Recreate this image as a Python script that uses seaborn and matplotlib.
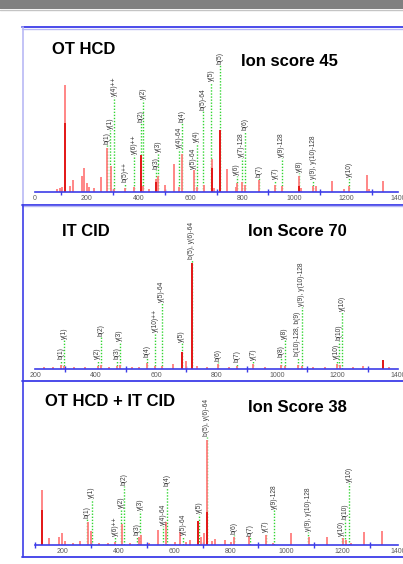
import matplotlib
matplotlib.use("Agg")
import matplotlib.pyplot as plt
import seaborn as sns
from matplotlib.lines import Line2D
from matplotlib.patches import Rectangle
from matplotlib.ticker import MultipleLocator

# ---------------- data ----------------
# OT HCD (ion score 45)
hcd_mz = [86, 95, 104, 116, 135, 145, 180, 190, 199, 207, 228, 255, 278, 292, 305, 347, 383, 409,
          418, 440, 467, 476, 501, 536, 557, 566, 613, 623, 652, 681, 690, 713, 741, 775, 778, 797,
          810, 865, 926, 951, 1019, 1025, 1073, 1082, 1144, 1192, 1211, 1280, 1290, 1343]
hcd_int = [3, 4, 5, 106, 6, 12, 16, 24, 9, 5, 4, 15, 44, 26, 3, 4, 5, 37,
           6, 3, 13, 16, 7, 28, 5, 38, 22, 5, 7, 33, 4, 62, 23, 5, 9, 10,
           7, 12, 7, 6, 16, 4, 6, 6, 11, 3, 6, 17, 3, 11]
hcd_dark_mz = [116, 409, 467, 681, 713, 1019]
hcd_dark_int = [69, 37, 10, 24, 62, 6]
hcd_ann_mz = [278, 290, 305, 347, 383, 409, 418, 467, 476, 557, 566, 613, 623, 649, 679, 713,
              778, 797, 810, 865, 926, 951, 1019, 1073, 1211]
hcd_ann_lab = ["b(1)", "y(1)", "y(4)++", "b(5)++", "y(6)++", "b(2)", "y(2)", "b(3)", "y(3)",
               "y(4)-64", "b(4)", "y(5)-64", "y(4)", "b(5)-64", "y(5)", "b(5)",
               "y(6)", "y(7)-128", "b(6)", "b(7)", "y(7)", "y(9)-128", "y(8)", "y(9), y(10)-128", "y(10)"]
hcd_ann_h = [47, 62, 94, 9, 37, 69, 91, 22, 39, 43, 69, 22, 49, 81, 109, 126,
             16, 34, 61, 14, 12, 34, 19, 12, 14]

# IT CID (ion score 70)
cid_mz = [230, 260, 285, 296, 330, 365, 407, 417, 445, 472, 480, 520, 545, 569, 597, 619, 655,
          685, 700, 718, 735, 770, 805, 840, 867, 921, 960, 1013, 1026, 1069, 1082, 1120, 1160,
          1198, 1208, 1250, 1285, 1350, 1370]
cid_int = [2, 2, 4, 3, 2, 2, 3, 4, 2, 3, 4, 2, 2, 6, 3, 3, 5,
           17, 8, 106, 3, 2, 5, 2, 3, 5, 2, 4, 3, 4, 3, 2, 2,
           5, 4, 2, 3, 9, 2]
cid_dark_mz = [685, 718, 1350]
cid_dark_int = [17, 106, 9]
cid_ann_mz = [285, 296, 407, 417, 472, 480, 569, 597, 619, 685, 718, 805, 867, 921, 1013, 1026,
              1069, 1082, 1198, 1205, 1215]
cid_ann_lab = ["b(1)", "y(1)", "y(2)", "b(2)", "b(3)", "y(3)", "b(4)", "y(10)++", "y(5)-64", "y(5)",
               "b(5), y(6)-64", "b(6)", "b(7)", "y(7)", "b(8)", "y(8)", "b(10)-128, b(9)",
               "y(9), y(10)-128", "y(10)", "b(10)", "y(10)"]
cid_ann_h = [9, 29, 9, 32, 9, 27, 11, 36, 66, 26, 109, 7, 6, 8, 11, 29, 12, 62, 9, 28, 57]

# OT HCD + IT CID (ion score 38)
mix_mz = [124, 151, 187, 195, 207, 237, 261, 291, 299, 330, 360, 387, 413, 440, 473, 479, 510,
          539, 568, 600, 619, 640, 655, 683, 696, 705, 716, 733, 745, 781, 801, 813, 868, 926,
          953, 1016, 1081, 1144, 1204, 1212, 1230, 1279, 1342]
mix_int = [55, 7, 8, 12, 4, 2, 4, 23, 14, 2, 2, 3, 21, 2, 8, 10, 2,
           15, 23, 3, 13, 3, 5, 24, 8, 12, 105, 4, 6, 5, 3, 8, 9, 10,
           2, 12, 8, 8, 7, 5, 2, 13, 14]
mix_dark_mz = [124, 683, 716]
mix_dark_int = [35, 24, 33]
mix_ann_mz = [285, 303, 387, 409, 417, 467, 476, 559, 571, 630, 689, 715, 811, 871, 926, 956,
              1078, 1199, 1211, 1226]
mix_ann_lab = ["b(1)", "y(1)", "y(6)++", "y(2)", "b(2)", "b(3)", "y(3)", "y(4)-64", "b(4)",
               "y(5)-64", "y(5)", "b(5), y(6)-64", "b(6)", "b(7)", "y(7)", "y(9)-128",
               "y(9), y(10)-128", "y(10)", "b(10)", "y(10)"]
mix_ann_h = [26, 46, 8, 36, 59, 9, 34, 19, 58, 9, 31, 108, 10, 8, 12, 35, 13, 8, 25, 62]

# ---------------- style ----------------
sns.set_theme(style="white")
plt.rcParams['font.family'] = ['Liberation Sans', 'DejaVu Sans']

peak_light = "#ff7d7d"
peak_dark = "#e01010"
match_green = "#33d633"
axis_blue = "#3d3de8"
label_grey = "#3a3a3a"

W, H = 403, 564
fig = plt.figure(figsize=(W / 100, H / 100), dpi=100)


def fig_line(x0, y0, x1, y1, color, lw=1.0):
    # pixel coords (top-left origin) -> figure fraction
    fig.add_artist(Line2D([x0 / W, x1 / W], [1 - y0 / H, 1 - y1 / H],
                          transform=fig.transFigure, color=color, lw=lw))


def draw_panel(ax, xlim, mz, inten, dmz, dint, amz, alab, ah, title, score, t_xy, s_xy):
    ax.set_xlim(*xlim)
    ax.set_ylim(0, 164)
    # green dotted match lines + labels
    ax.vlines(amz, 0, ah, colors=match_green, linestyles=(0, (1, 1.2)), lw=1.0, zorder=1)
    for x, lab, h in zip(amz, alab, ah):
        ax.text(x, h + 1, lab, rotation=90, ha="center", va="bottom",
                fontsize=4.8, color=label_grey, zorder=3)
    # peaks
    ax.vlines(mz, 0, inten, colors=peak_light, lw=1.3, zorder=2)
    ax.vlines(dmz, 0, dint, colors=peak_dark, lw=1.3, zorder=2)
    sns.despine(ax=ax, left=True)
    ax.spines["bottom"].set_color(axis_blue)
    ax.spines["bottom"].set_linewidth(1.2)
    ax.set_yticks([])
    ax.xaxis.set_major_locator(MultipleLocator(200))
    ax.xaxis.set_minor_locator(MultipleLocator(100))
    ax.tick_params(axis="x", which="major", length=0, pad=2.5, labelsize=5, labelcolor="#5a5a5a")
    ax.tick_params(axis="x", which="minor", length=4.5, width=1, direction="inout",
                   color=axis_blue, bottom=True)
    ax.patch.set_alpha(0)
    ax.text(*t_xy, title, transform=ax.transAxes, fontsize=12, fontweight="bold",
            ha="left", va="center", color="black")
    ax.text(*s_xy, score, transform=ax.transAxes, fontsize=12, fontweight="bold",
            ha="left", va="center", color="black")


ax_l, ax_w = 35 / W, 363 / W
ax1 = fig.add_axes([ax_l, 1 - 192 / H, ax_w, 165 / H])
ax2 = fig.add_axes([ax_l, 1 - 369 / H, ax_w, 164 / H])
ax3 = fig.add_axes([ax_l, 1 - 545 / H, ax_w, 164 / H])

draw_panel(ax1, (0, 1400), hcd_mz, hcd_int, hcd_dark_mz, hcd_dark_int,
           hcd_ann_mz, hcd_ann_lab, hcd_ann_h, "OT HCD", "Ion score 45",
           (0.047, 0.861), (0.567, 0.788))
draw_panel(ax2, (200, 1400), cid_mz, cid_int, cid_dark_mz, cid_dark_int,
           cid_ann_mz, cid_ann_lab, cid_ann_h, "IT CID", "Ion Score 70",
           (0.074, 0.841), (0.587, 0.841))
draw_panel(ax3, (100, 1400), mix_mz, mix_int, mix_dark_mz, mix_dark_int,
           mix_ann_mz, mix_ann_lab, mix_ann_h, "OT HCD + IT CID", "Ion Score 38",
           (0.028, 0.872), (0.587, 0.841))

# header bar and panel frames
fig.add_artist(Rectangle((0, 1 - 9 / H), 1, 9 / H, transform=fig.transFigure,
                         color="#808080", lw=0))
fig_line(0, 9.5, W, 9.5, "#c4c4c4", 1.0)
fig_line(22, 27, W, 27, axis_blue, 1.3)
fig_line(22, 28.5, W, 28.5, "#b9b9f5", 1.0)
fig_line(22.5, 27, 22.5, 205, "#b9b9f5", 1.2)
fig_line(22, 204.5, W, 204.5, axis_blue, 1.3)
fig_line(22, 206, W, 206, "#b9b9f5", 1.0)
fig_line(23, 205, 23, 381, axis_blue, 1.2)
fig_line(22, 380.5, W, 380.5, axis_blue, 1.3)
fig_line(23, 381, 23, 557, axis_blue, 1.2)
fig_line(22, 556.5, W, 556.5, axis_blue, 1.3)

fig.savefig("out.png", dpi=100)
